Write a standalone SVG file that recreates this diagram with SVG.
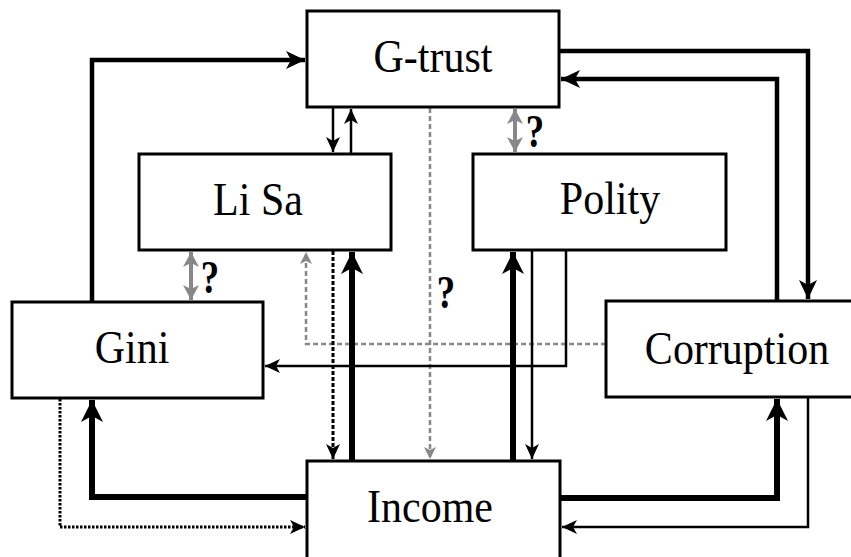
<svg xmlns="http://www.w3.org/2000/svg" width="851" height="557" viewBox="0 0 851 557">
<style>
.box{fill:#fff;stroke:#000;stroke-width:3}
.lbl{font-family:"Liberation Serif","Times New Roman",serif;font-size:42px;fill:#000;text-anchor:middle}
.q{font-family:"Liberation Serif","Times New Roman",serif;font-size:46px;font-weight:bold;fill:#000;text-anchor:middle}
.c{fill:none;stroke:#000;stroke-linejoin:miter}
.thin{stroke-width:2.5;marker-end:url(#ahS)}
.med{stroke-width:4.5;marker-end:url(#ahM)}
.thick{stroke-width:6;marker-end:url(#ahL)}
.gdash{fill:none;stroke:#888;stroke-width:2.5;stroke-dasharray:5 3;marker-end:url(#ahG)}
.bdash{stroke-width:3;stroke-dasharray:4 2;marker-end:url(#ahS)}
.bdot{stroke-width:3;stroke-dasharray:2.5 1.5;marker-end:url(#ahS)}
.gdbl{fill:none;stroke:#888;stroke-width:4;marker-start:url(#ahD);marker-end:url(#ahD)}
</style>
<defs>
<marker id="ahS" markerUnits="userSpaceOnUse" viewBox="-16 -8 17 16" refX="0" refY="0" markerWidth="17" markerHeight="16" orient="auto"><path d="M0,0 L-15,-7 L-11,0 L-15,7 Z" fill="#000"/></marker>
<marker id="ahM" markerUnits="userSpaceOnUse" viewBox="-20 -10 21 20" refX="0" refY="0" markerWidth="21" markerHeight="20" orient="auto"><path d="M0,0 L-19,-9 L-14,0 L-19,9 Z" fill="#000"/></marker>
<marker id="ahL" markerUnits="userSpaceOnUse" viewBox="-23 -12 24 24" refX="0" refY="0" markerWidth="24" markerHeight="24" orient="auto"><path d="M0,0 L-22,-11 L-16,0 L-22,11 Z" fill="#000"/></marker>
<marker id="ahG" markerUnits="userSpaceOnUse" viewBox="-14 -7 15 14" refX="0" refY="0" markerWidth="15" markerHeight="14" orient="auto"><path d="M0,0 L-12,-6 L-9,0 L-12,6 Z" fill="#888"/></marker>
<marker id="ahD" markerUnits="userSpaceOnUse" viewBox="-16 -9 17 18" refX="0" refY="0" markerWidth="17" markerHeight="18" orient="auto-start-reverse"><path d="M0,0 L-15,-8 L-11,0 L-15,8 Z" fill="#888"/></marker>
</defs>
<g id="connectors">
<path class="c med" d="M92,302 V60 H305"/>
<path class="c med" d="M559,51 H808 V299"/>
<path class="c med" d="M777,301 V79 H561"/>
<path class="c thin" d="M333,107 V152"/>
<path class="c thin" d="M351,154 V109"/>
<path class="gdbl" d="M515,109 V152"/>
<path class="gdbl" d="M191,252 V300"/>
<path class="gdash" d="M430,108 V459"/>
<path class="gdash" d="M606,344 H306 V252"/>
<path class="c bdash" d="M333,251 V459"/>
<path class="c thick" d="M352,461 V252"/>
<path class="c thick" d="M513,461 V252"/>
<path class="c thin" d="M532,251 V459"/>
<path class="c thin" d="M566,251 V366 H265"/>
<path class="c thick" d="M307,497 H92 V400"/>
<path class="c bdot" d="M60,399 V527 H305"/>
<path class="c thick" d="M560,498 H777 V399"/>
<path class="c thin" d="M808,398 V527 H562"/>
</g>
<g id="q-marks">
<text class="q" transform="translate(535,147) scale(0.8,1)">?</text>
<text class="q" transform="translate(210,293) scale(0.8,1)">?</text>
<text class="q" transform="translate(446,308) scale(0.8,1)">?</text>
</g>
<g id="gtrust"><rect class="box" x="307" y="11" width="252" height="96"/><text class="lbl" transform="translate(433,72) scale(1,1.12)">G-trust</text></g>
<g id="lisa"><rect class="box" x="139" y="154" width="252" height="96"/><text class="lbl" transform="translate(258,215) scale(1,1.12)">Li Sa</text></g>
<g id="polity"><rect class="box" x="473" y="154" width="253" height="96"/><text class="lbl" transform="translate(610,214) scale(1,1.12)">Polity</text></g>
<g id="gini"><rect class="box" x="12" y="302" width="251" height="96"/><text class="lbl" transform="translate(132,363) scale(1,1.12)">Gini</text></g>
<g id="corruption"><rect class="box" x="606" y="301" width="260" height="96"/><text class="lbl" transform="translate(737,364) scale(1,1.12)">Corruption</text></g>
<g id="income"><rect class="box" x="307" y="461" width="253" height="110"/><text class="lbl" transform="translate(430,522) scale(1,1.12)">Income</text></g>
</svg>
